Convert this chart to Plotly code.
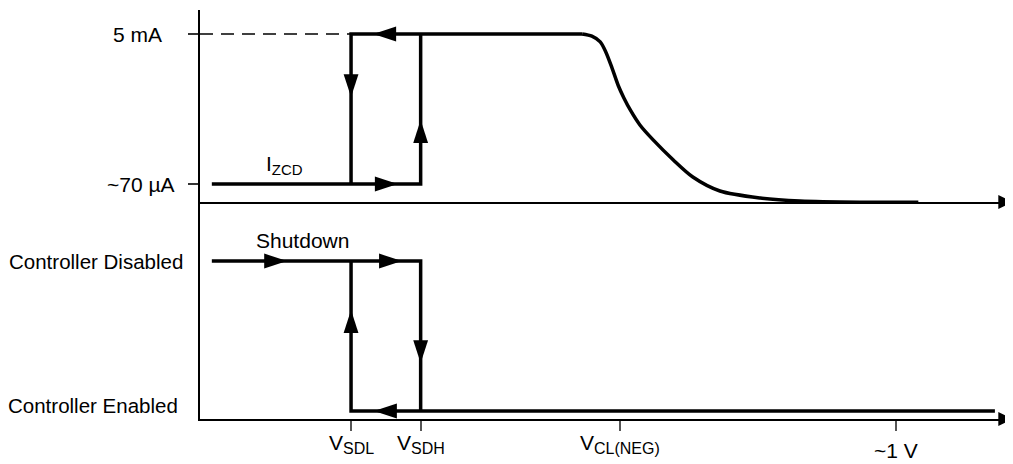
import plotly.graph_objects as go

# x axis: sense voltage (schematic volts, ~1 V at 1.0)
V_SDL = 0.217
V_SDH = 0.317
v_ticks = [0.217, 0.317, 0.603, 1.0]
v_tick_labels = ["V<sub><span style='font-size:16px'>SDL</span></sub>",
                 "V<sub><span style='font-size:16px'>SDH</span></sub>",
                 "V<sub><span style='font-size:16px'>CL(NEG)</span></sub>",
                 "~1 V"]

# top panel: I_ZCD in mA
i_ticks = [5.0, 0.07]
i_tick_labels = ["5 mA", "~70 µA"]

izcd_rise_v = [0.017, V_SDH, V_SDH]
izcd_rise_i = [0.07, 0.07, 5.0]
izcd_fall_v = [0.549, V_SDL, V_SDL]
izcd_fall_i = [5.0, 5.0, 0.07]

curve_v = [0.549, 0.563, 0.575, 0.583, 0.592, 0.601, 0.609, 0.619, 0.632, 0.651,
           0.680, 0.708, 0.747, 0.805, 0.862, 0.948, 1.032]
curve_i = [5.0, 4.93, 4.74, 4.41, 3.88, 3.30, 2.90, 2.47, 2.01, 1.52,
           0.86, 0.30, -0.16, -0.39, -0.49, -0.53, -0.53]

top_arrow_v = [0.249, 0.217, 0.284, 0.317]
top_arrow_i = [5.0, 2.93, 0.07, 2.17]
top_arrow_dir = [270, 180, 90, 0]

# bottom panel: controller state (0 = enabled, 1 = disabled)
state_labels = ["Controller Enabled", "Controller Disabled"]
shutdown_v = [0.017, V_SDH, V_SDH]
shutdown_s = [1, 1, 0]
enable_v = [1.142, V_SDL, V_SDL]
enable_s = [0, 0, 1]

bot_arrow_v = [0.125, 0.290, 0.317, 0.217, 0.250]
bot_arrow_s = [1, 1, 0.32, 0.673, 0]
bot_arrow_dir = [90, 90, 180, 0, 270]

FONT = "Liberation Sans, Arial, sans-serif"
X_MAX = 1.168
Y1 = [-0.5216, 5.789]
Y2 = [-0.0533, 1.3933]
SPLIT = 0.53056

fig = go.Figure()

line = dict(color="black", width=3.5)
fig.add_trace(go.Scatter(x=[0, V_SDL], y=[5.0, 5.0], mode="lines",
                         line=dict(color="black", width=1.3, dash="13px,8px"),
                         xaxis="x", yaxis="y"))
fig.add_trace(go.Scatter(x=izcd_rise_v, y=izcd_rise_i, mode="lines", line=line, xaxis="x", yaxis="y"))
fig.add_trace(go.Scatter(x=izcd_fall_v, y=izcd_fall_i, mode="lines", line=line, xaxis="x", yaxis="y"))
fig.add_trace(go.Scatter(x=curve_v, y=curve_i, mode="lines",
                         line=dict(color="black", width=3.5, shape="spline", smoothing=0.8),
                         xaxis="x", yaxis="y"))
fig.add_trace(go.Scatter(x=top_arrow_v, y=top_arrow_i, mode="markers", xaxis="x", yaxis="y",
                         marker=dict(symbol="arrow", size=24, angle=top_arrow_dir,
                                     color="black", line=dict(width=0))))

fig.add_trace(go.Scatter(x=shutdown_v, y=shutdown_s, mode="lines", line=line, xaxis="x2", yaxis="y2"))
fig.add_trace(go.Scatter(x=enable_v, y=enable_s, mode="lines", line=line, xaxis="x2", yaxis="y2"))
fig.add_trace(go.Scatter(x=bot_arrow_v, y=bot_arrow_s, mode="markers", xaxis="x2", yaxis="y2",
                         marker=dict(symbol="arrow", size=24, angle=bot_arrow_dir,
                                     color="black", line=dict(width=0))))

# arrow heads on the x axes
fig.add_trace(go.Scatter(x=[X_MAX - 0.001], y=[Y1[0]], mode="markers", xaxis="x", yaxis="y",
                         cliponaxis=False,
                         marker=dict(symbol="arrow-right", size=14, color="black", line=dict(width=0))))
fig.add_trace(go.Scatter(x=[X_MAX - 0.001], y=[Y2[0]], mode="markers", xaxis="x2", yaxis="y2",
                         cliponaxis=False,
                         marker=dict(symbol="arrow-right", size=14, color="black", line=dict(width=0))))

ann = []
# current labels
for val, txt, shift in zip(i_ticks, i_tick_labels, [-36, -23]):
    ann.append(dict(x=0, xref="paper", y=val, yref="y", text=txt, showarrow=False,
                    xanchor="right", yanchor="middle", xshift=shift))
# state labels
for val, txt, xs, ys in zip([0, 1], state_labels, [-20, -15], [6, 0]):
    ann.append(dict(x=0, xref="paper", y=val, yref="y2", text=txt, showarrow=False,
                    xanchor="right", yanchor="middle", xshift=xs, yshift=ys,
                    font=dict(size=20.5)))
# voltage labels
for val, txt in zip(v_ticks, v_tick_labels):
    ypos = -0.047 if txt == "~1 V" else -0.027
    ann.append(dict(x=val, xref="x2", y=ypos, yref="paper", text=txt, showarrow=False,
                    xanchor="center", yanchor="top", borderpad=0))
ann.append(dict(x=0.122, xref="x", y=0.07, yref="y",
                text="I<sub><span style='font-size:15px'>ZCD</span></sub>", showarrow=False,
                xanchor="center", yanchor="bottom", yshift=4))
ann.append(dict(x=0.147, xref="x2", y=1, yref="y2", text="Shutdown", showarrow=False,
                xanchor="center", yanchor="middle", yshift=21))

axis_common = dict(showgrid=False, zeroline=False, showline=True, linecolor="black", linewidth=2)

# page body has an 8px margin, so the figure is shifted by that much
fig.update_layout(
    width=1005, height=456,
    margin=dict(l=192, r=0, t=2, b=45),
    plot_bgcolor="white", paper_bgcolor="white",
    showlegend=False,
    font=dict(family=FONT, size=21, color="black"),
    annotations=ann,
    xaxis=dict(axis_common, domain=[0, 1], range=[0, X_MAX], anchor="y",
               showticklabels=False, ticks=""),
    yaxis=dict(axis_common, domain=[SPLIT, 1], range=Y1, anchor="x",
               tickvals=i_ticks, showticklabels=False, ticks="outside",
               ticklen=10, tickwidth=1.5, tickcolor="#333"),
    xaxis2=dict(axis_common, domain=[0, 1], range=[0, X_MAX], anchor="y2",
                tickvals=v_ticks, showticklabels=False, ticks="outside",
                ticklen=10, tickwidth=1.5, tickcolor="#555"),
    yaxis2=dict(axis_common, domain=[0, SPLIT], range=Y2, anchor="x2",
                showticklabels=False, ticks=""),
)

fig.write_html("out.html")
